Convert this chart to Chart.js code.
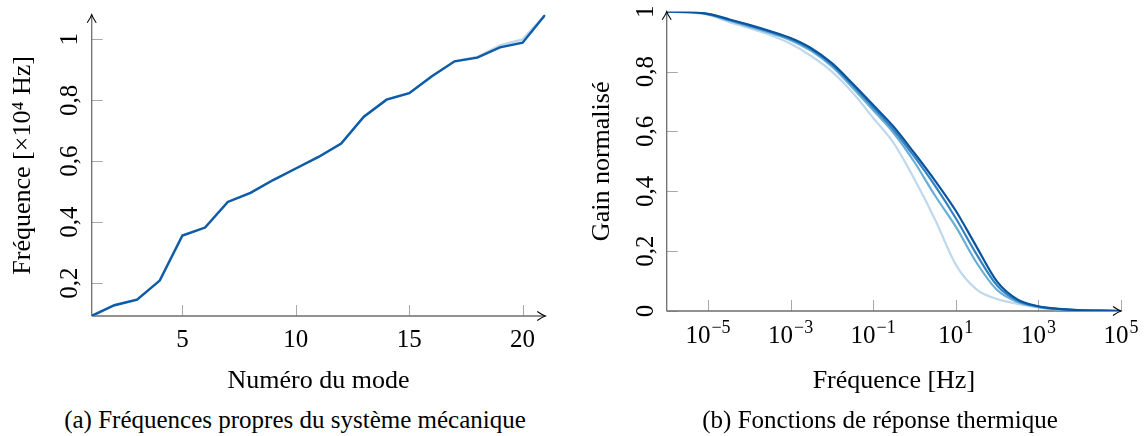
<!DOCTYPE html>
<html>
<head>
<meta charset="utf-8">
<script src="https://cdn.jsdelivr.net/npm/chart.js@4.4.1/dist/chart.umd.min.js"></script>
<style>
  body { margin: 0; background: #fff; width: 1144px; height: 436px; position: relative; overflow: hidden; font-family: "Liberation Serif", serif; }
  #chartA { position: absolute; left: 0; top: 0; }
  #chartB { position: absolute; left: 572px; top: 0; }
  .cap { position: absolute; top: 405px; font-size: 25px; line-height: 30px; color: #000; white-space: nowrap; transform: translateX(-50%); }
</style>
</head>
<body>
<canvas id="chartA" width="580" height="400" style="width:580px;height:400px"></canvas>
<canvas id="chartB" width="572" height="400" style="width:572px;height:400px"></canvas>
<div class="cap" style="left:295px">(a) Fréquences propres du système mécanique</div>
<div class="cap" style="left:880px">(b) Fonctions de réponse thermique</div>
<script>
// --- (a) eigenfrequencies, x10^4 Hz
const modes = [1, 2, 3, 4, 5, 6, 7, 8, 9, 10, 11, 12, 13, 14, 15, 16, 17, 18, 19, 20, 21];
const freqLight = [0.092, 0.127, 0.145, 0.208, 0.356, 0.382, 0.466, 0.496, 0.538, 0.576, 0.614, 0.658, 0.746, 0.802, 0.823, 0.879, 0.928, 0.942, 0.980, 1.000, 1.081];
const freqDark = [0.092, 0.127, 0.145, 0.208, 0.356, 0.382, 0.466, 0.496, 0.538, 0.576, 0.614, 0.658, 0.746, 0.802, 0.823, 0.879, 0.928, 0.940, 0.974, 0.989, 1.081];
const xTicksA = [5, 10, 15, 20];
const yTicksA = [0.2, 0.4, 0.6, 0.8, 1];

// --- (b) thermal response, normalised gain
const freqHz = [1e-6, 3.162e-6, 1e-5, 3.162e-5, 1e-4, 3.162e-4, 1e-3, 3.162e-3, 1e-2, 3.162e-2, 1e-1, 3.162e-1,
                1, 3.162, 10, 31.62, 100, 316.2, 1000, 3162, 1e4, 3.162e4, 1e5];
const gain1 = [1.000, 0.998, 0.990, 0.966, 0.945, 0.922, 0.893, 0.852, 0.800, 0.730, 0.645, 0.560, 0.440, 0.305, 0.155, 0.072, 0.040, 0.024, 0.012, 0.005, 0.002, 0.001, 0.000];
const gain2 = [1.000, 0.998, 0.991, 0.971, 0.950, 0.929, 0.905, 0.869, 0.817, 0.746, 0.671, 0.594, 0.497, 0.385, 0.282, 0.162, 0.070, 0.030, 0.013, 0.005, 0.002, 0.001, 0.000];
const gain3 = [1.000, 0.999, 0.992, 0.973, 0.954, 0.933, 0.909, 0.874, 0.823, 0.754, 0.680, 0.604, 0.515, 0.418, 0.310, 0.190, 0.085, 0.034, 0.015, 0.006, 0.002, 0.001, 0.000];
const gain4 = [1.000, 0.999, 0.993, 0.975, 0.956, 0.935, 0.912, 0.878, 0.828, 0.760, 0.688, 0.615, 0.527, 0.435, 0.335, 0.215, 0.098, 0.038, 0.016, 0.007, 0.003, 0.001, 0.000];
const xTicksB = [1e-5, 1e-3, 1e-1, 1e1, 1e3, 1e5];
const xTickExpB = ['−5', '−3', '−1', '1', '3', '5'];
const yTicksB = [0, 0.2, 0.4, 0.6, 0.8, 1];

Chart.defaults.font.family = '"Liberation Serif", serif';
Chart.defaults.color = '#000';

const comma = v => String(v).replace('.', ',');

// pgfplots-like axes: grey lines, inner ticks, arrow heads
const arrowAxes = {
  id: 'arrowAxes',
  beforeDatasetsDraw(chart) {
    const {ctx, chartArea: a, scales: {x, y}} = chart;
    ctx.save();
    ctx.strokeStyle = '#a8a8a8';
    ctx.lineWidth = 1;
    ctx.beginPath();
    x.ticks.forEach(t => {
      const px = Math.round(x.getPixelForValue(t.value)) + 0.5;
      ctx.moveTo(px, a.bottom); ctx.lineTo(px, a.bottom - 11);
    });
    y.ticks.forEach(t => {
      const py = Math.round(y.getPixelForValue(t.value)) + 0.5;
      ctx.moveTo(a.left, py); ctx.lineTo(a.left + 11, py);
    });
    ctx.stroke();
    ctx.strokeStyle = '#6e6e6e';
    ctx.lineWidth = 1.3;
    ctx.beginPath();
    ctx.moveTo(a.left, a.bottom); ctx.lineTo(a.right, a.bottom);
    ctx.moveTo(a.left, a.bottom); ctx.lineTo(a.left, a.top);
    ctx.stroke();
    ctx.restore();
  },
  afterDatasetsDraw(chart) {
    const {ctx, chartArea: a} = chart;
    ctx.save();
    ctx.strokeStyle = '#000';
    ctx.lineWidth = 1.1;
    ctx.beginPath();
    ctx.moveTo(a.right - 8, a.bottom - 4.5);
    ctx.quadraticCurveTo(a.right - 3, a.bottom - 1, a.right, a.bottom);
    ctx.quadraticCurveTo(a.right - 3, a.bottom + 1, a.right - 8, a.bottom + 4.5);
    ctx.moveTo(a.left - 4.5, a.top + 8);
    ctx.quadraticCurveTo(a.left - 1, a.top + 3, a.left, a.top);
    ctx.quadraticCurveTo(a.left + 1, a.top + 3, a.left + 4.5, a.top + 8);
    ctx.stroke();
    ctx.restore();
  }
};

// power-of-ten tick labels with a real raised exponent
const powerLabels = {
  id: 'powerLabels',
  afterDraw(chart) {
    const {ctx, chartArea: a, scales: {x}} = chart;
    ctx.save();
    ctx.fillStyle = '#000';
    ctx.textBaseline = 'alphabetic';
    ctx.textAlign = 'left';
    x.ticks.forEach((t, i) => {
      const px = x.getPixelForValue(t.value);
      ctx.font = '25px "Liberation Serif", serif';
      const wb = ctx.measureText('10').width;
      ctx.font = '18px "Liberation Serif", serif';
      const we = ctx.measureText(xTickExpB[i]).width;
      const x0 = px - (wb + we + 1) / 2;
      ctx.font = '25px "Liberation Serif", serif';
      ctx.fillText('10', x0, a.bottom + 32);
      ctx.font = '18px "Liberation Serif", serif';
      ctx.fillText(xTickExpB[i], x0 + wb + 1, a.bottom + 22);
    });
    ctx.restore();
  }
};

function noPad(s) { s.paddingLeft = 0; s.paddingRight = 0; s.paddingTop = 0; s.paddingBottom = 0; }

const common = {
  responsive: false,
  animation: false,
  plugins: {legend: {display: false}, tooltip: {enabled: false}},
  elements: {point: {radius: 0}}
};

new Chart(document.getElementById('chartA'), {
  type: 'line',
  data: {
    datasets: [
      {data: modes.map((m, i) => ({x: m, y: freqDark[i]})), borderColor: '#0e5ba7', borderWidth: 2.4, order: 0},
      {data: modes.map((m, i) => ({x: m, y: freqLight[i]})), borderColor: '#bcd6eb', borderWidth: 2.4, order: 1}
    ]
  },
  plugins: [arrowAxes],
  options: Object.assign({}, common, {
    layout: {padding: {left: 0, top: 14.7, right: 34.7, bottom: 0}},
    scales: {
      x: {
        type: 'linear', min: 1, max: 21,
        grid: {display: false, drawTicks: false}, border: {display: false},
        afterBuildTicks: s => { s.ticks = xTicksA.map(v => ({value: v})); },
        ticks: {font: {size: 25}, padding: 9, maxRotation: 0, autoSkip: false, callback: v => comma(v)},
        title: {display: true, text: 'Numéro du mode', font: {size: 26}, padding: {top: 0, bottom: 3.4}},
        afterFit: s => { s.height = 84; noPad(s); }
      },
      y: {
        type: 'linear', min: 0.0917, max: 1.081,
        grid: {display: false, drawTicks: false}, border: {display: false},
        afterBuildTicks: s => { s.ticks = yTicksA.map(v => ({value: v})); },
        ticks: {font: {size: 25}, padding: 6, minRotation: 90, maxRotation: 90, crossAlign: 'center', autoSkip: false, callback: v => comma(v)},
        title: {display: true, text: 'Fréquence [×10⁴ Hz]', font: {size: 26}, padding: {top: 7.4, bottom: 0}},
        afterFit: s => { s.width = 91.7; noPad(s); }
      }
    }
  })
});

const blues = ['#bfd8ec', '#6aaed6', '#3383c3', '#0a549e'];
const gains = [gain1, gain2, gain3, gain4];

new Chart(document.getElementById('chartB'), {
  type: 'line',
  data: {
    datasets: gains.map((g, k) => ({
      data: freqHz.map((f, i) => ({x: f, y: g[i]})),
      borderColor: blues[k], borderWidth: 2.2, cubicInterpolationMode: 'monotone', order: 3 - k
    }))
  },
  plugins: [arrowAxes, powerLabels],
  options: Object.assign({}, common, {
    layout: {padding: {left: 0, top: 11.7, right: 23, bottom: 0}},
    scales: {
      x: {
        type: 'logarithmic', min: 1e-6, max: 1e5,
        grid: {display: false, drawTicks: false}, border: {display: false},
        afterBuildTicks: s => { s.ticks = xTicksB.map(v => ({value: v})); },
        ticks: {display: false},
        title: {display: true, text: 'Fréquence [Hz]', font: {size: 26}, padding: {top: 0, bottom: 3.4}},
        afterFit: s => { s.height = 89; noPad(s); }
      },
      y: {
        type: 'linear', min: 0, max: 1,
        grid: {display: false, drawTicks: false}, border: {display: false},
        afterBuildTicks: s => { s.ticks = yTicksB.map(v => ({value: v})); },
        ticks: {font: {size: 25}, padding: 5, minRotation: 90, maxRotation: 90, crossAlign: 'center', autoSkip: false, callback: v => comma(v)},
        title: {display: true, text: 'Gain normalisé', font: {size: 26}, padding: {top: 14.4, bottom: 0}},
        afterFit: s => { s.width = 94.7; noPad(s); }
      }
    }
  })
});
</script>
</body>
</html>
